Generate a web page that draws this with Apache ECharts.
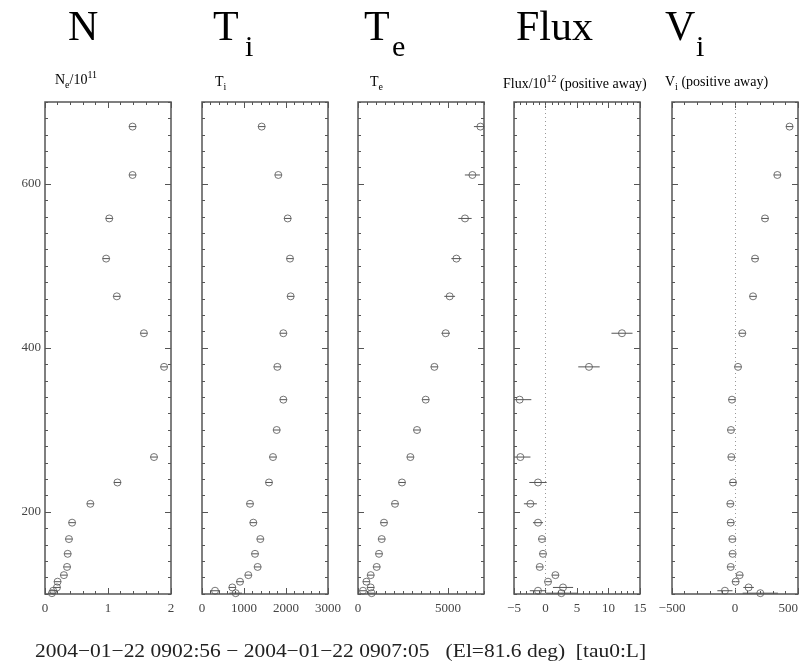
<!DOCTYPE html>
<html>
<head>
<meta charset="utf-8">
<script src="https://cdn.jsdelivr.net/npm/echarts@6/dist/echarts.min.js"></script>
<style>
  html, body { margin: 0; padding: 0; background: #fff; }
  #chart { width: 806px; height: 661px; }
</style>
</head>
<body>
<div id="chart"></div>
<script>
// Altitude gates (km), bottom to top
const altitude = [101, 104, 108, 115, 123, 133, 149, 167, 187, 210, 236, 267, 300, 337, 377, 418, 463, 509, 558, 611, 670];

// Electron density / 1e11
const neValues = [0.11, 0.13, 0.19, 0.20, 0.30, 0.35, 0.36, 0.38, 0.43, 0.72, 1.15, 1.73, null, null, 1.89, 1.57, 1.14, 0.97, 1.02, 1.39, 1.39];
const neErrors = [0.02, 0.02, 0.02, 0.02, 0.02, 0.02, 0.02, 0.02, 0.02, 0.02, 0.03, 0.03, null, null, 0.03, 0.03, 0.03, 0.03, 0.03, 0.03, 0.03];

// Ion temperature (K)
const tiValues = [802, 310, 722, 905, 1103, 1325, 1262, 1389, 1222, 1143, 1595, 1690, 1778, 1937, 1794, 1937, 2111, 2095, 2040, 1817, 1421];
const tiErrors = [150, 120, 60, 90, 50, 40, 40, 40, 40, 40, 40, 40, 40, 40, 40, 40, 40, 40, 40, 40, 40];

// Electron temperature (K)
const teValues = [761, 278, 706, 467, 706, 1039, 1167, 1317, 1444, 2056, 2444, 2911, 3278, 3761, 4244, 4872, 5094, 5467, 5944, 6356, 6800];
const teErrors = [100, 80, 80, 80, 80, 80, 100, 100, 100, 120, 130, 140, 150, 170, 200, 230, 300, 280, 370, 420, 360];

// Field-aligned flux / 1e12 (positive away)
const fluxValues = [2.52, -1.19, 2.78, 0.40, 1.57, -0.92, -0.40, -0.56, -1.19, -2.40, -1.19, -3.99, null, -4.10, 6.90, 12.14, null, null, null, null, null];
const fluxErrors = [2.6, 1.3, 1.6, 0.3, 0.4, 0.3, 0.3, 0.3, 0.8, 1.03, 1.38, 1.6, null, 1.85, 1.7, 1.67, null, null, null, null, null];

// Ion velocity (m/s, positive away)
const viValues = [201, -80, 108, 5, 37, -34, -19, -21, -34, -37, -16, -29, -32, -24, 24, 58, 143, 159, 238, 336, 433];
const viErrors = [140, 60, 42, 15, 15, 10, 10, 10, 10, 10, 10, 10, 10, 10, 10, 15, 15, 15, 20, 20, 25];

// Tick labels
const altitudeTicks = [200, 400, 600];
const neTicks = [0, 1, 2];
const tiTicks = [0, 1000, 2000, 3000];
const teTicks = [0, 5000];
const fluxTicks = [-5, 0, 5, 10, 15];
const viTicks = [-500, 0, 500];

// Headings
const headings = [
  { main: 'N', sub: '' },
  { main: 'T', sub: 'i' },
  { main: 'T', sub: 'e' },
  { main: 'Flux', sub: '' },
  { main: 'V', sub: 'i' }
];

const SERIF = '"Liberation Serif", "DejaVu Serif", serif';
const INK = '#555';

const panels = [
  { left: 45,  values: neValues,   errors: neErrors,   min: 0,    max: 2,    minor: 0.2, ticks: neTicks,   zeroLine: false, headX: 68 },
  { left: 202, values: tiValues,   errors: tiErrors,   min: 0,    max: 3000, minor: 200, ticks: tiTicks,   zeroLine: false, headX: 213 },
  { left: 358, values: teValues,   errors: teErrors,   min: 0,    max: 7000, minor: 500, ticks: teTicks,   zeroLine: false, headX: 364 },
  { left: 514, values: fluxValues, errors: fluxErrors, min: -5,   max: 15,   minor: 1,   ticks: fluxTicks, zeroLine: true,  headX: 516 },
  { left: 672, values: viValues,   errors: viErrors,   min: -500, max: 500,  minor: 100, ticks: viTicks,   zeroLine: true,  headX: 665 }
];

const GRID_TOP = 102, GRID_H = 492, GRID_W = 126;
const Y_MIN = 100, Y_MAX = 700, Y_MINOR = 20;

const grids = [], xAxes = [], yAxes = [], series = [];

const tickLine = { color: INK, width: 1 };
const labelStyle = { fontFamily: SERIF, fontSize: 13, color: '#444' };
const plainNumber = v => (v < 0 ? '\u2212' + Math.abs(v) : String(v));
const noLine = { show: false, onZero: false };

panels.forEach((p, gi) => {
  grids.push({
    left: p.left, top: GRID_TOP, width: GRID_W, height: GRID_H,
    show: true, borderColor: INK, borderWidth: 1.5, backgroundColor: 'transparent',
    containLabel: false
  });

  const base = { gridIndex: gi, type: 'value', min: p.min, max: p.max, splitLine: { show: false }, axisLine: noLine };
  // bottom minor, bottom major (labelled), top minor, top major
  xAxes.push(Object.assign({}, base, { position: 'bottom', interval: p.minor,
    axisTick: { inside: true, length: 3, lineStyle: tickLine }, axisLabel: { show: false } }));
  xAxes.push(Object.assign({}, base, { position: 'bottom',
    axisTick: { inside: true, length: 6, lineStyle: tickLine, customValues: p.ticks },
    axisLabel: Object.assign({ show: true, margin: 8, customValues: p.ticks, formatter: plainNumber,
      alignMaxLabel: gi === 4 ? 'right' : null }, labelStyle) }));
  xAxes.push(Object.assign({}, base, { position: 'top', interval: p.minor,
    axisTick: { inside: true, length: 3, lineStyle: tickLine }, axisLabel: { show: false } }));
  xAxes.push(Object.assign({}, base, { position: 'top',
    axisTick: { inside: true, length: 6, lineStyle: tickLine, customValues: p.ticks }, axisLabel: { show: false } }));

  const ybase = { gridIndex: gi, type: 'value', min: Y_MIN, max: Y_MAX, splitLine: { show: false }, axisLine: noLine };
  yAxes.push(Object.assign({}, ybase, { position: 'left', interval: Y_MINOR,
    axisTick: { inside: true, length: 3, lineStyle: tickLine }, axisLabel: { show: false } }));
  yAxes.push(Object.assign({}, ybase, { position: 'left',
    axisTick: { inside: true, length: 6, lineStyle: tickLine, customValues: altitudeTicks },
    axisLabel: Object.assign({ show: gi === 0, margin: 4, customValues: altitudeTicks, formatter: plainNumber }, labelStyle) }));
  yAxes.push(Object.assign({}, ybase, { position: 'right', interval: Y_MINOR,
    axisTick: { inside: true, length: 3, lineStyle: tickLine }, axisLabel: { show: false } }));
  yAxes.push(Object.assign({}, ybase, { position: 'right',
    axisTick: { inside: true, length: 6, lineStyle: tickLine, customValues: altitudeTicks }, axisLabel: { show: false } }));

  const points = [];
  altitude.forEach((h, i) => {
    if (p.values[i] !== null && p.values[i] !== undefined) points.push([p.values[i], h, p.errors[i] || 0]);
  });

  // horizontal error bars, drawn through each marker
  series.push({
    type: 'custom',
    xAxisIndex: gi * 4, yAxisIndex: gi * 4,
    data: points,
    silent: true,
    renderItem: function (params, api) {
      const x = api.value(0), y = api.value(1), e = api.value(2);
      const c = api.coord([x, y]);
      const lo = api.coord([x - e, y]);
      const hi = api.coord([x + e, y]);
      const cs = params.coordSys;
      let x1 = Math.min(lo[0], c[0] - 3.5);
      let x2 = Math.max(hi[0], c[0] + 3.5);
      x1 = Math.max(x1, cs.x);
      x2 = Math.min(x2, cs.x + cs.width);
      return {
        type: 'line',
        shape: { x1: x1, y1: c[1], x2: x2, y2: c[1] },
        style: { stroke: INK, lineWidth: 1 }
      };
    },
    z: 3
  });

  const scatter = {
    type: 'scatter',
    xAxisIndex: gi * 4, yAxisIndex: gi * 4,
    data: points.map(d => [d[0], d[1]]),
    symbol: 'circle',
    symbolSize: 7,
    itemStyle: { color: 'rgba(255,255,255,0)', borderColor: INK, borderWidth: 1 },
    silent: true,
    z: 4
  };
  if (p.zeroLine) {
    scatter.markLine = {
      silent: true,
      symbol: 'none',
      label: { show: false },
      lineStyle: { type: [1, 3], color: '#999', width: 1 },
      data: [{ xAxis: 0 }]
    };
  }
  series.push(scatter);
});

// Headings above the panels
const graphics = [];
headings.forEach((h, i) => {
  graphics.push({
    type: 'text', x: panels[i].headX, y: 29,
    style: { text: h.main, font: '42px ' + SERIF, fill: '#000', verticalAlign: 'middle', align: 'left' }
  });
});
// Subscripts of the headings
graphics.push({ type: 'text', x: 245, y: 48, style: { text: 'i', font: '30px ' + SERIF, fill: '#000', verticalAlign: 'middle' } });
graphics.push({ type: 'text', x: 392, y: 48, style: { text: 'e', font: '30px ' + SERIF, fill: '#000', verticalAlign: 'middle' } });
graphics.push({ type: 'text', x: 696, y: 48, style: { text: 'i', font: '30px ' + SERIF, fill: '#000', verticalAlign: 'middle' } });

// Panel captions with sub/superscripts
const richBase = {
  b: { fontFamily: SERIF, fontSize: 14, color: '#333', lineHeight: 20, verticalAlign: 'middle' },
  s: { fontFamily: SERIF, fontSize: 10, color: '#333', lineHeight: 20, verticalAlign: 'bottom' },
  p: { fontFamily: SERIF, fontSize: 10, color: '#333', lineHeight: 20, verticalAlign: 'top' }
};
const captions = [
  { x: 55,  y: 80, text: '{b|N}{s|e}{b|/10}{p|11}' },
  { x: 215, y: 82, text: '{b|T}{s|i}' },
  { x: 370, y: 82, text: '{b|T}{s|e}' },
  { x: 503, y: 84, text: '{b|Flux/10}{p|12}{b| (positive away)}' },
  { x: 665, y: 82, text: '{b|V}{s|i}{b| (positive away)}' }
];
captions.forEach(c => {
  graphics.push({
    type: 'text', x: c.x, y: c.y,
    style: { text: c.text, rich: richBase, verticalAlign: 'middle', align: 'left' }
  });
});

// Time range footer
graphics.push({
  type: 'text', x: 35, y: 652, scaleX: 1.13,
  style: {
    text: '2004\u221201\u221222 0902:56 \u2212 2004\u221201\u221222 0907:05   (El=81.6 deg)  [tau0:L]',
    font: '19px ' + SERIF, fill: '#222', verticalAlign: 'middle', align: 'left'
  }
});

const chart = echarts.init(document.getElementById('chart'), null, { renderer: 'canvas' });
chart.setOption({
  animation: false,
  backgroundColor: '#fff',
  grid: grids,
  xAxis: xAxes,
  yAxis: yAxes,
  series: series,
  graphic: graphics
});
</script>
</body>
</html>
